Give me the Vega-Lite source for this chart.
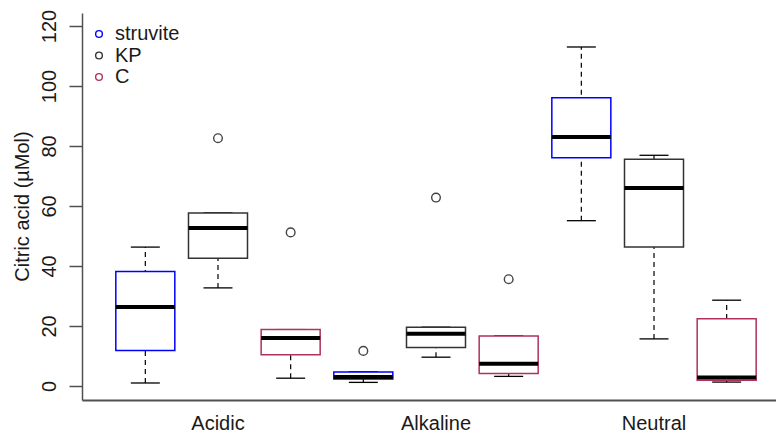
{
  "$schema": "https://vega.github.io/schema/vega-lite/v6.json",
  "autosize": {"type": "none"},
  "padding": {"left": 82, "top": 13, "right": 0, "bottom": 36},
  "width": 694,
  "height": 387,
  "background": "white",
  "config": {"view": {"stroke": null}, "font": "Liberation Sans"},
  "datasets": {
    "boxes": [
      {"group": "Acidic", "type": "struvite", "lower": 1.0, "q1": 11.8, "median": 26.3, "q3": 38.2, "upper": 46.3},
      {"group": "Acidic", "type": "KP", "lower": 32.7, "q1": 42.6, "median": 52.7, "q3": 57.7, "upper": 57.7},
      {"group": "Acidic", "type": "C", "lower": 2.6, "q1": 10.4, "median": 16.0, "q3": 18.8, "upper": 18.8},
      {"group": "Alkaline", "type": "struvite", "lower": 1.2, "q1": 2.3, "median": 3.0, "q3": 4.7, "upper": 4.7},
      {"group": "Alkaline", "type": "KP", "lower": 9.6, "q1": 12.8, "median": 17.4, "q3": 19.6, "upper": 19.6},
      {"group": "Alkaline", "type": "C", "lower": 3.2, "q1": 4.2, "median": 7.4, "q3": 16.7, "upper": 16.7},
      {"group": "Neutral", "type": "struvite", "lower": 55.1, "q1": 76.1, "median": 83.0, "q3": 96.1, "upper": 113.0},
      {"group": "Neutral", "type": "KP", "lower": 15.7, "q1": 46.3, "median": 66.0, "q3": 75.6, "upper": 76.9},
      {"group": "Neutral", "type": "C", "lower": 1.3, "q1": 1.9, "median": 2.8, "q3": 22.4, "upper": 28.6}
    ],
    "outliers": [
      {"group": "Acidic", "type": "KP", "value": 82.6},
      {"group": "Acidic", "type": "C", "value": 51.2},
      {"group": "Alkaline", "type": "struvite", "value": 11.7},
      {"group": "Alkaline", "type": "KP", "value": 62.8},
      {"group": "Alkaline", "type": "C", "value": 35.6}
    ]
  },
  "encoding": {
    "x": {
      "field": "group", "type": "nominal",
      "scale": {"domain": ["Acidic", "Alkaline", "Neutral"], "paddingInner": 0, "paddingOuter": 0.0917, "align": 0.675},
      "axis": {
        "title": null, "labelAngle": 0, "ticks": false, "tickSize": 0,
        "labelFontSize": 20, "labelColor": "#1a1a1a", "labelPadding": 13,
        "domainColor": "#505050", "domainWidth": 2
      }
    },
    "xOffset": {
      "field": "type", "type": "nominal",
      "scale": {"domain": ["struvite", "KP", "C"], "paddingInner": 0.188, "paddingOuter": 0.094}
    }
  },
  "layer": [
    {
      "data": {"name": "boxes"},
      "mark": {"type": "rule", "color": "black", "strokeWidth": 1.2, "strokeDash": [5, 4]},
      "encoding": {
        "y": {
          "field": "lower", "type": "quantitative",
          "scale": {"domain": [-4.67, 124.33], "nice": false, "zero": false},
          "axis": {
            "title": "Citric acid (µMol)", "values": [0, 20, 40, 60, 80, 100, 120],
            "grid": false, "tickSize": 13, "tickWidth": 1.5, "tickColor": "#505050",
            "domainColor": "#505050", "domainWidth": 1.5,
            "labelAngle": 270, "labelAlign": "center", "labelBaseline": "alphabetic",
            "labelPadding": 14, "labelFontSize": 20, "labelColor": "#1a1a1a",
            "titleFontSize": 20, "titleFontWeight": "normal", "titleColor": "#1a1a1a",
            "titleAngle": 270, "titleAlign": "center", "titleBaseline": "alphabetic",
            "titleX": -54, "titleY": 193
          }
        },
        "y2": {"field": "upper"}
      }
    },
    {
      "data": {"name": "boxes"},
      "mark": {"type": "tick", "color": "black", "size": 29, "thickness": 1.3, "opacity": 1},
      "encoding": {"y": {"field": "lower", "type": "quantitative"}}
    },
    {
      "data": {"name": "boxes"},
      "mark": {"type": "tick", "color": "black", "size": 29, "thickness": 1.3, "opacity": 1},
      "encoding": {"y": {"field": "upper", "type": "quantitative"}}
    },
    {
      "data": {"name": "boxes"},
      "mark": {"type": "bar", "fill": "white", "strokeWidth": 1.5},
      "encoding": {
        "y": {"field": "q1", "type": "quantitative"},
        "y2": {"field": "q3"},
        "stroke": {
          "field": "type", "type": "nominal",
          "scale": {"domain": ["struvite", "KP", "C"], "range": ["#0000ff", "#333333", "#b03060"]},
          "legend": {
            "title": null, "orient": "none", "legendX": 7, "legendY": 11,
            "symbolType": "circle", "symbolSize": 45, "symbolStrokeWidth": 1.4,
            "symbolFillColor": "white",
            "labelFontSize": 20, "labelColor": "#1a1a1a", "labelOffset": 6,
            "rowPadding": 1.5, "padding": 0
          }
        }
      }
    },
    {
      "data": {"name": "boxes"},
      "mark": {"type": "tick", "color": "black", "size": 59, "thickness": 4, "opacity": 1},
      "encoding": {"y": {"field": "median", "type": "quantitative"}}
    },
    {
      "data": {"name": "outliers"},
      "mark": {"type": "point", "shape": "circle", "filled": false, "color": "#444444", "size": 75, "strokeWidth": 1.4, "opacity": 1},
      "encoding": {"y": {"field": "value", "type": "quantitative"}}
    }
  ]
}
